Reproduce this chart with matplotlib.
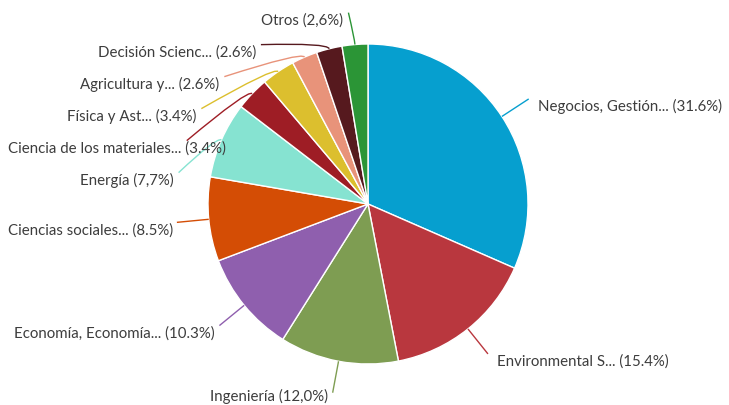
import numpy as np
import matplotlib.pyplot as plt
from matplotlib.path import Path
from matplotlib.patches import PathPatch

# data
labels = ["Negocios, Gestión...", "Environmental S...", "Ingeniería",
          "Economía, Economía...", "Ciencias sociales...", "Energía",
          "Ciencia de los materiales...", "Física y Ast...", "Agricultura y...",
          "Decisión Scienc...", "Otros"]
shares = [31.6, 15.4, 12.0, 10.3, 8.5, 7.7, 3.4, 3.4, 2.6, 2.6, 2.6]
share_text = ["31.6%", "15.4%", "12,0%", "10.3%", "8.5%", "7,7%",
              "3.4%", "3.4%", "2.6%", "2.6%", "2,6%"]
colors = ["#069fcf", "#b9373e", "#7e9d52", "#8f5fae", "#d44d05", "#86e3d1",
          "#9e1d25", "#dcbf2e", "#e8937a", "#56191e", "#2b9536"]

W, H = 729, 406
cx, cy = 368, H - 205     # pie centre in pixel-like data units
r = 160
R = 192                   # radius where connectors end
gap = 32                  # min vertical spacing of labels on one side

fig = plt.figure(figsize=(W / 100, H / 100), dpi=100)
ax = fig.add_axes([0, 0, 1, 1])
wedges, _ = ax.pie(shares, colors=colors, startangle=90, counterclock=False,
                   center=(cx, cy), radius=r, frame=True,
                   wedgeprops=dict(edgecolor="white", linewidth=1))
ax.set_xlim(0, W)
ax.set_ylim(0, H)
ax.set_aspect("equal")
ax.axis("off")

mids = np.deg2rad([(w.theta1 + w.theta2) / 2 for w in wedges])
ends_y = cy + R * np.sin(mids)

# push crowded labels down, per side, top to bottom
for side in (-1, 1):
    idx = [i for i in range(len(mids)) if np.sign(np.cos(mids[i])) == side]
    idx.sort(key=lambda i: -ends_y[i])
    for k in range(1, len(idx)):
        prev, cur = idx[k - 1], idx[k]
        ends_y[cur] = min(ends_y[cur], ends_y[prev] - gap)

renderer = fig.canvas.get_renderer()
for i, a in enumerate(mids):
    side = 1 if np.cos(a) >= 0 else -1
    dy = np.clip(ends_y[i] - cy, -R + 1, R - 1)
    ex = cx + side * np.sqrt(R ** 2 - dy ** 2)
    ey = ends_y[i]
    p0 = (cx + r * np.cos(a), cy + r * np.sin(a))
    p1 = (cx + (r + 6) * np.cos(a), cy + (r + 6) * np.sin(a))
    path = Path([p0, p1, (ex, ey)], [Path.MOVETO, Path.CURVE3, Path.CURVE3])
    ax.add_patch(PathPatch(path, facecolor="none", edgecolor=colors[i], lw=1))

    tx, ty = ex + (9 if side > 0 else -5), ey - 7
    t = ax.text(tx, ty, f"{labels[i]} ({share_text[i]})",
                ha="left" if side > 0 else "right", va="center",
                fontsize=10.8, family="Lato", color="#3d3d3d")
    # keep labels inside the picture
    bb = t.get_window_extent(renderer)
    if bb.x0 < 8:
        t.set_x(tx + (8 - bb.x0))
    if bb.y0 < 2:
        t.set_y(ty + (2 - bb.y0))

fig.savefig("out.png", dpi=100)
